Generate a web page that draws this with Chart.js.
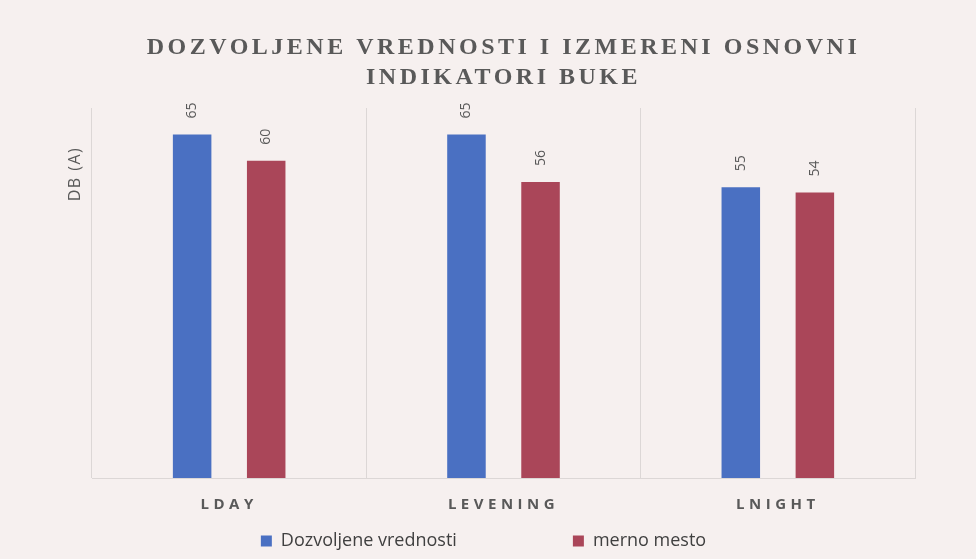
<!DOCTYPE html>
<html>
<head>
<meta charset="utf-8">
<script src="https://cdn.jsdelivr.net/npm/chart.js@4.4.1/dist/chart.umd.min.js"></script>
<style>
  html, body { margin: 0; padding: 0; background: #f6f0ef; }
  #wrap { width: 976px; height: 559px; position: relative; }
</style>
</head>
<body>
<div id="wrap"><canvas id="c"></canvas></div>
<script>
// ---- data ----
const categories = ['LDAY', 'LEVENING', 'LNIGHT'];
const seriesNames = ['Dozvoljene vrednosti', 'merno mesto'];
const allowedValues = [65, 65, 55];
const measuredValues = [60, 56, 54];
const titleLines = ['DOZVOLJENE VREDNOSTI I IZMERENI OSNOVNI', 'INDIKATORI BUKE'];
const yAxisTitle = 'DB (A)';
const yMin = 0;
const yMax = 70;

// ---- styles ----
const TEXT = '#595959';
const BLUE = '#4a70c2';
const RED = '#aa4659';
const GRID = '#dcd7d6';
const LEGEND_PAD = 116;

function wrapMethod(chart, obj, name, spacing, pre) {
  if (!obj) return;
  const key = '__wrapped_' + name;
  if (obj[key]) return;
  const orig = obj[name];
  obj[name] = function (...args) {
    const ctx = chart.ctx;
    const saved = { top: this.top, left: this.left, right: this.right };
    ctx.save();
    ctx.letterSpacing = spacing;
    if (pre) pre.call(this);
    const r = orig.apply(this, args);
    ctx.restore();
    this.top = saved.top; this.left = saved.left; this.right = saved.right;
    return r;
  };
  obj[key] = true;
}

const stylePlugin = {
  id: 'stylePlugin',
  afterLayout(chart) {
    wrapMethod(chart, chart.titleBlock, 'draw', '3.5px');
    wrapMethod(chart, chart.scales.x, 'drawLabels', '4.5px');
    wrapMethod(chart, chart.legend, 'draw', '0px', function () {
      // keep wide horizontal gap between items while placing the row near the bottom
      this.top = (chart.height - 18 - 9) - LEGEND_PAD;
      this.left -= 20;
      this.right -= 20;
    });
  },
  afterDatasetsDraw(chart) {
    const ctx = chart.ctx;
    ctx.save();
    ctx.fillStyle = TEXT;
    ctx.font = '14px "Open Sans"';
    ctx.textAlign = 'left';
    ctx.textBaseline = 'middle';
    chart.data.datasets.forEach((ds, i) => {
      chart.getDatasetMeta(i).data.forEach((bar, j) => {
        ctx.save();
        ctx.translate(bar.x, bar.y - 16);
        ctx.rotate(-Math.PI / 2);
        ctx.fillText(String(ds.data[j]), 0, 0);
        ctx.restore();
      });
    });
    // y axis title
    ctx.font = '16px "Open Sans"';
    ctx.letterSpacing = '1.5px';
    ctx.textAlign = 'center';
    ctx.save();
    ctx.translate(75, chart.chartArea.top + 66);
    ctx.rotate(-Math.PI / 2);
    ctx.fillText(yAxisTitle, 0, 0);
    ctx.restore();
    ctx.restore();
  }
};

new Chart(document.getElementById('c'), {
  type: 'bar',
  data: {
    labels: categories,
    datasets: [
      { label: seriesNames[0], data: allowedValues, backgroundColor: BLUE },
      { label: seriesNames[1], data: measuredValues, backgroundColor: RED }
    ]
  },
  plugins: [stylePlugin],
  options: {
    responsive: true,
    maintainAspectRatio: false,
    animation: false,
    categoryPercentage: 0.54,
    barPercentage: 0.52,
    layout: { padding: { left: 92, right: 61, top: 0, bottom: 0 } },
    scales: {
      x: {
        grid: { display: true, color: GRID, lineWidth: 1, drawTicks: false, offset: true },
        border: { display: true, color: GRID },
        ticks: {
          color: TEXT,
          padding: 18,
          font: { family: '"Open Sans"', size: 15, weight: 'bold' }
        }
      },
      y: {
        display: false,
        min: yMin,
        max: yMax
      }
    },
    plugins: {
      title: {
        display: true,
        text: titleLines,
        color: TEXT,
        font: { family: '"Liberation Serif"', size: 24, weight: 'bold', lineHeight: 30 / 24 },
        padding: { top: 33, bottom: 15 }
      },
      legend: {
        display: true,
        position: 'bottom',
        maxHeight: 27,
        labels: {
          color: '#404040',
          boxWidth: 11,
          boxHeight: 11,
          padding: LEGEND_PAD,
          font: { family: '"Open Sans"', size: 18 }
        }
      },
      tooltip: { enabled: false }
    }
  }
});
</script>
</body>
</html>
